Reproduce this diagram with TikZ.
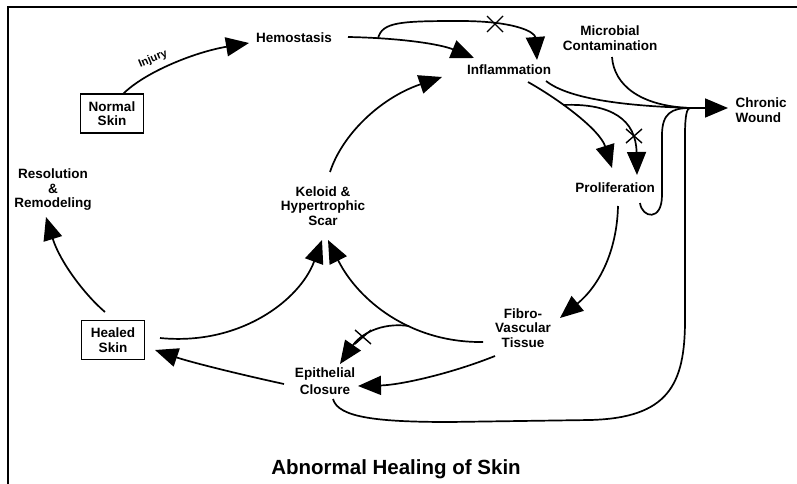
\documentclass[tikz,border=0pt]{standalone}
\usepackage{fontspec}
\setmainfont{Liberation Sans}
\usetikzlibrary{arrows.meta,calc}
\begin{document}
\begin{tikzpicture}[x=1pt,y=-1pt,
 lbl/.style={align=center,font=\fontsize{13.5}{14.5}\selectfont\bfseries,inner sep=1pt},
 boxed/.style={lbl,draw,line width=1.5pt,minimum width=63pt,minimum height=39pt,inner sep=0pt},
 conn/.style={line width=1.7pt},
 arr/.style={conn,-{Triangle[length=23pt,width=19pt]}},
 xmark/.style={line width=1.4pt}]
\fill[white] (0,0) rectangle (797,484);
\useasboundingbox (0,0) rectangle (797,484);
% frame
\draw[line width=2.5pt] (8,484) -- (8,7) -- (797,7);
% nodes
\node[lbl] (hemo) at (294,38) {Hemostasis};
\node[lbl] (infl) at (509,70) {Inflammation};
\node[lbl] (micro) at (610,38) {Microbial\\Contamination};
\node[lbl,align=left] (chronic) at (761,110) {Chronic\\Wound};
\node[boxed] (normal) at (112,113.5) {Normal\\Skin};
\node[lbl] (res) at (53,190) {Resolution\\\&\\Remodeling};
\node[lbl] (keloid) at (323,206) {Keloid \&\\Hypertrophic\\Scar};
\node[lbl] (prolif) at (615,188) {Proliferation};
\node[lbl] (fibro) at (523,328) {Fibro-\\Vascular\\Tissue};
\node[lbl,font=\fontsize{13.5}{16.5}\selectfont\bfseries] (epi) at (325,381) {Epithelial\\Closure};
\node[boxed] (healed) at (113,340) {Healed\\Skin};
\node[font=\fontsize{20.5}{22}\selectfont\bfseries] (title) at (396,469) {Abnormal Healing of Skin};
\coordinate (J) at (690,108);
% normal -> hemostasis
\draw[arr] ($(normal)+(11,-19.5)$) .. controls (145,72) and (195,52) .. ($(hemo)+(-45,5)$);
\node[font=\fontsize{11}{11}\selectfont\bfseries,rotate=23,inner sep=0pt] (injury) at (153,59) {Injury};
% hemostasis -> inflammation
\draw[arr] ($(hemo)+(54,-1)$) .. controls (400,38) and (440,44) .. ($(infl)+(-35,-12)$);
\coordinate (bH) at (378,38.5);
\draw[arr] (bH) .. controls (382,22) and (400,21) .. (460,21) .. controls (515,21) and (535,32) .. ($(infl)+(28,-10)$);
\draw[xmark] (487,16) -- (503,32) (487,32) -- (503,16);
% keloid -> inflammation
\draw[arr] ($(keloid)+(7,-34)$) .. controls (342,135) and (380,98) .. ($(infl)+(-67,7)$);
% inflammation -> proliferation
\draw[arr] ($(infl)+(19,12)$) .. controls (560,100) and (600,130) .. ($(prolif)+(-3,-20)$);
\coordinate (bI) at (563,105);
\draw[arr] (bI) .. controls (612,103) and (636,120) .. ($(prolif)+(22,-13)$);
\draw[xmark] (626,129) -- (642,143) (626,143) -- (642,129);
% to chronic wound
\draw[conn] ($(infl)+(37,11)$) .. controls (570,100) and (630,106) .. (J);
\draw[conn] ($(micro)+(2,19)$) .. controls (614,85) and (640,106) .. (J);
\draw[conn] ($(prolif)+(25,15)$) .. controls (642,218) and (662,222) .. (662,195) -- (662,135) .. controls (662,113) and (672,108) .. (J);
\draw[conn] ($(epi)+(8,18)$) .. controls (338,418) and (380,422) .. (450,422) -- (590,420) .. controls (668,418) and (685,385) .. (685,320) -- (685,135) .. controls (685,115) and (687,108) .. (J);
\draw[arr] (J) -- ($(chronic)+(-33,-2)$);
% proliferation -> fibro
\draw[arr] ($(prolif)+(3,18)$) .. controls (617,250) and (600,285) .. ($(fibro)+(37,-10)$);
% fibro -> keloid
\draw[arr] ($(fibro)+(-40,14)$) .. controls (410,343) and (358,300) .. ($(keloid)+(5,34)$);
\coordinate (bF) at (409,326);
\draw[arr] (bF) .. controls (380,322) and (360,335) .. ($(epi)+(15,-17)$);
\draw[xmark] (355,330) -- (371,344) (355,344) -- (371,330);
% fibro -> epithelial
\draw[arr] ($(fibro)+(-28,28)$) .. controls (450,374) and (400,385) .. ($(epi)+(33,5)$);
% epithelial -> healed
\draw[arr] ($(epi)+(-41,3)$) .. controls (238,374) and (190,362) .. ($(healed)+(42,10)$);
% healed -> keloid
\draw[arr] ($(healed)+(47,-2)$) .. controls (240,346) and (300,300) .. ($(keloid)+(-1,34)$);
% healed -> resolution
\draw[arr] ($(healed)+(-8,-28)$) .. controls (85,295) and (60,262) .. ($(res)+(-7,27)$);
\end{tikzpicture}
\end{document}
